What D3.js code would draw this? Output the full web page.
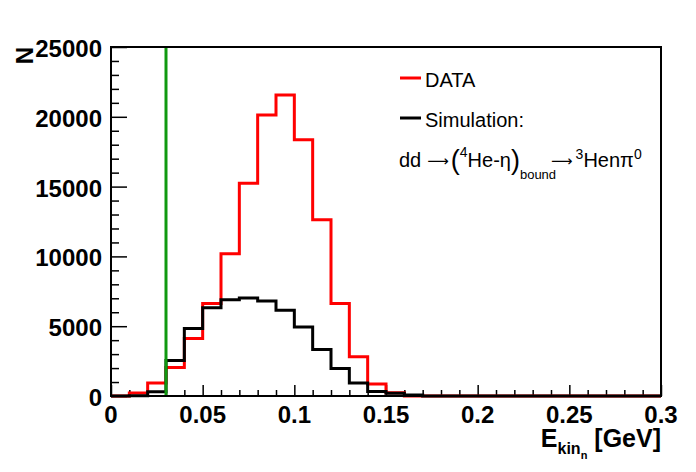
<!DOCTYPE html>
<meta charset="utf-8">
<head>
	<title>E_kin_n</title>
	<script src="https://cdn.jsdelivr.net/npm/d3@7"></script>
	<style>
		body { margin: 0; background: #fff; }
		text { font-family: "Liberation Sans", Arial, Helvetica, sans-serif; }
	</style>
</head>
<body>
	<svg id="chart" width="696" height="472"></svg>
	<script>
		// bin low edges, GeV (width 0.01)
		var binLow = [0.00, 0.01, 0.02, 0.03, 0.04, 0.05, 0.06, 0.07, 0.08, 0.09,
			0.10, 0.11, 0.12, 0.13, 0.14, 0.15, 0.16, 0.17, 0.18, 0.19,
			0.20, 0.21, 0.22, 0.23, 0.24, 0.25, 0.26, 0.27, 0.28, 0.29];
		var binWidth = 0.01;
		var dataCounts = [0, 220, 930, 2050, 4120, 6620, 10190, 15240, 20120, 21570,
			18360, 12620, 6620, 2810, 860, 230, 0, 0, 0, 0,
			0, 0, 0, 0, 0, 0, 0, 0, 0, 0];
		var simCounts = [0, 20, 310, 2540, 4830, 6330, 6900, 7020, 6810, 6140,
			4950, 3330, 1975, 930, 330, 190, 80, 0, 0, 0,
			0, 0, 0, 0, 0, 0, 0, 0, 0, 0];
		var cutValue = 0.03;
		var xTicks = [0, 0.05, 0.1, 0.15, 0.2, 0.25, 0.3];
		var yTicks = [0, 5000, 10000, 15000, 20000, 25000];

		var svg = d3.select("#chart");
		// "top" is taken by window.top, so prefix the frame edges
		var padL = 111, padR = 661, padT = 47, padB = 396;

		var x = d3.scaleLinear().domain([0, 0.3]).range([padL, padR]);
		var y = d3.scaleLinear().domain([0, 25000]).range([padB, padT]);

		// step outline like ROOT's hist drawing
		function stepPath(counts) {
			var p = d3.path();
			p.moveTo(x(binLow[0]), y(counts[0]));
			binLow.forEach(function (b, i) {
				if (i > 0) p.lineTo(x(b), y(counts[i]));
				p.lineTo(x(b + binWidth), y(counts[i]));
			});
			return p.toString();
		}

		// axes ticks (drawn first, under the histograms)
		var xAxis = d3.axisTop(x)
			.tickValues(d3.range(0, 0.3001, 0.01))
			.tickFormat("");
		svg.append("g")
			.attr("transform", "translate(0," + padB + ")")
			.call(xAxis)
			.call(function (g) { g.select(".domain").remove(); })
			.selectAll("line")
			.attr("stroke-width", 1.5)
			.attr("y2", function (d, i) { return i % 5 == 0 ? -11 : -6; });

		var yAxis = d3.axisRight(y)
			.tickValues(d3.range(0, 25001, 1000))
			.tickFormat("");
		svg.append("g")
			.attr("transform", "translate(" + padL + ",0)")
			.call(yAxis)
			.call(function (g) { g.select(".domain").remove(); })
			.selectAll("line")
			.attr("stroke-width", 1.5)
			.attr("x2", function (d, i) { return i % 5 == 0 ? 16 : 8; });

		svg.append("path")
			.attr("d", stepPath(dataCounts))
			.attr("fill", "none")
			.attr("stroke", "#ff0000")
			.attr("stroke-width", 3);

		svg.append("path")
			.attr("d", stepPath(simCounts))
			.attr("fill", "none")
			.attr("stroke", "#000")
			.attr("stroke-width", 3);

		// cut line
		svg.append("line")
			.attr("x1", x(cutValue)).attr("x2", x(cutValue))
			.attr("y1", y(25000)).attr("y2", y(0))
			.attr("stroke", "#109910")
			.attr("stroke-width", 3);

		// frame
		svg.append("rect")
			.attr("x", padL).attr("y", padT)
			.attr("width", padR - padL).attr("height", padB - padT)
			.attr("fill", "none")
			.attr("stroke", "#000")
			.attr("stroke-width", 2);

		svg.append("g")
			.selectAll("text")
			.data(xTicks)
			.enter()
			.append("text")
			.attr("x", function (d) { return x(d); })
			.attr("y", padB + 27)
			.attr("text-anchor", "middle")
			.attr("font-size", "24px")
			.attr("font-weight", "bold")
			.text(function (d) { return d; });

		svg.append("g")
			.selectAll("text")
			.data(yTicks)
			.enter()
			.append("text")
			.attr("x", padL - 9)
			.attr("y", function (d) { return y(d) + 10; })
			.attr("text-anchor", "end")
			.attr("font-size", "24px")
			.attr("font-weight", "bold")
			.text(function (d) { return d; });

		// axis titles
		svg.append("text")
			.attr("transform", "translate(33," + padT + ") rotate(-90)")
			.attr("text-anchor", "end")
			.attr("font-size", "24px")
			.attr("font-weight", "bold")
			.text("N");

		var xt = svg.append("text")
			.attr("x", padR)
			.attr("y", 447)
			.attr("text-anchor", "end")
			.attr("font-weight", "bold")
			.attr("font-size", "25px");
		xt.append("tspan").text("E");
		xt.append("tspan").attr("font-size", "16px").attr("dy", 7).text("kin");
		xt.append("tspan").attr("font-size", "11px").attr("dy", 5).text("n");
		xt.append("tspan").attr("dy", -12).text(" [GeV]");

		// legend
		var legend = svg.append("g");
		legend.append("line")
			.attr("x1", 400).attr("x2", 421).attr("y1", 78).attr("y2", 78)
			.attr("stroke", "#ff0000").attr("stroke-width", 3);
		legend.append("text")
			.attr("x", 425).attr("y", 87)
			.attr("font-size", "20px")
			.text("DATA");
		legend.append("line")
			.attr("x1", 400).attr("x2", 421).attr("y1", 118).attr("y2", 118)
			.attr("stroke", "#000").attr("stroke-width", 3);
		legend.append("text")
			.attr("x", 425).attr("y", 127)
			.attr("font-size", "20px")
			.text("Simulation:");

		var rx = legend.append("text")
			.attr("x", 399).attr("y", 167)
			.attr("font-size", "20px");
		rx.append("tspan").text("dd");
		rx.append("tspan").attr("font-family", "DejaVu Sans").attr("font-size", "15px").attr("dx", 6).attr("dy", -1).text("\u27f6");
		rx.append("tspan").attr("font-size", "27px").attr("dx", 2).attr("dy", 3).text("(");
		rx.append("tspan").attr("font-size", "14px").attr("dy", -12).text("4");
		rx.append("tspan").attr("dy", 10).text("He-\u03b7");
		rx.append("tspan").attr("font-size", "27px").attr("dy", 2).text(")");
		rx.append("tspan").attr("font-size", "13px").attr("dy", 10).text("bound");
		rx.append("tspan").attr("font-family", "DejaVu Sans").attr("font-size", "15px").attr("dx", -5).attr("dy", -13).text("\u27f6");
		rx.append("tspan").attr("font-size", "14px").attr("dx", 3).attr("dy", -7).text("3");
		rx.append("tspan").attr("dy", 8).text("Hen\u03c0");
		rx.append("tspan").attr("font-size", "14px").attr("dy", -8).text("0");
	</script>
</body>
